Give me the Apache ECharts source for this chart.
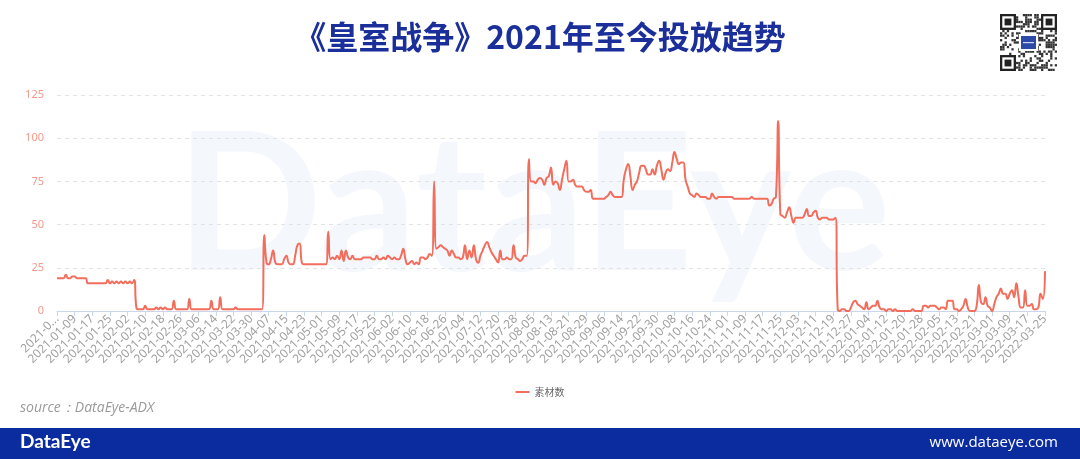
<!DOCTYPE html>
<html><head><meta charset="utf-8">
<script src="https://cdn.jsdelivr.net/npm/echarts@6/dist/echarts.min.js"></script>
<style>html,body{margin:0;padding:0;background:#fff}#c{width:1080px;height:459px}</style>
</head><body><div id="c"></div>
<script>
// ---- data ----
const titleText = '《皇室战争》2021年至今投放趋势';
const seriesName = '素材数';
const sourceText = 'source：DataEye-ADX';
const startYear = 2021, startMonth = 0, startDay = 1;
const dayCount = 449;
const yMax = 125, yInterval = 25;

// 2021-01-01 .. 2021-02-05
const valsEarly2021 = [19,19,19,19,21,19,19,20,20,19,19,19,19,19,
  16,16,16,16,16,16,16,16,16, 18,16, 17,16,17,16,17,16,17,16,17,16,18];
// 2021-02-06 .. 2021-04-04
const valsLow2021 = [2,1,1,1,3,1,1,1,1,2, 1,2,1,2,1,1,1,6,1,1,
  1,1,1,1,7,1,1,1,1,1, 1,1,1,1,6,1,1,1,8,1,
  1,1,1,1,1,2,1,1,1,1, 1,1,1,1,1,1,1,1];
// 2021-04-05 .. 2021-08-02
const valsMid2021 = [44,28,27,30,35,28,27,27,27,30,
  32,28,27,27,32,38,39,28,27,27,
  27,27,27,27,27,27,27,27,27,46,
  30,31,30,32,30,35,29,35,31,30,
  32,30,30,30,30,31,31,31,31,30,
  30,32,30,30,31,30,32,31,30,31,
  30,30,32,36,30,27,28,29,27,28,
  27,31,31,30,31,33,32,75,36,37,
  38,37,36,35,32,35,33,31,31,30,
  31,38,30,35,31,38,30,28,32,35,
  38,40,37,34,32,30,28,35,30,30,
  31,30,30,38,31,30,29,30,32,32];
// 2021-08-03 .. 2021-11-22
const valsHigh2021 = [88,75,75,74,76,77,76,73,77,78,
  83,73,75,74,70,76,82,87,75,75,
  76,73,72,72,72,70,69,69,70,65,
  65,65,65,65,65,66,67,69,67,66,
  66,66,66,76,82,85,78,70,73,75,
  80,84,84,82,79,79,82,79,84,87,
  82,76,80,82,81,86,92,88,85,86,
  86,76,72,68,67,66,68,67,66,66,
  66,65,65,68,66,65,66,66,66,66,
  66,66,66,65,65,65,65,65,65,65,
  65,66,65,65,65,65,65,65,65,61,
  62,65,66];
// 2021-11-23 .. 2021-12-19
const valsLate2021 = [110,56,55,54,57,60,55,51,54,54,
  54,54,56,59,55,55,57,58,54,53,
  54,54,54,53,53,53,54];
// 2021-12-20 .. 2022-03-25
const vals2022 = [1,0,1,1,0,0,2,5,6,4,
  3,2,1,5,1,2,3,3,6,2,
  1,1,0,1,1,0,1,0,0,0,
  0,0,0,0,1,0,0,0,0,3,
  3,2,3,3,3,2,1,2,2,1,
  6,6,6,1,1,0,1,3,7,2,
  0,0,0,3,15,5,4,8,3,2,
  0,4,8,10,13,10,10,7,10,12,
  8,16,8,2,2,12,3,3,4,1,
  1,2,10,7,23];

const values = [].concat(valsEarly2021, valsLow2021, valsMid2021, valsHigh2021, valsLate2021, vals2022);
const categories = [];
for (let k = 0; k < dayCount; k++) {
  const d = new Date(Date.UTC(startYear, startMonth, startDay + k));
  categories.push(d.toISOString().slice(0, 10));
}

// ---- QR-like decoration ----
const qx = 1000, qy = 14, qn = 25, qs = 57 / 25;
const qrElems = [{ type: 'rect', shape: { x: qx, y: qy, width: 57, height: 57 }, style: { fill: '#fff' } }];
for (let y = 0; y < qn; y++) for (let x = 0; x < qn; x++) {
  const h = ((x * 73856093) ^ (y * 19349663) ^ ((x + 3) * (y + 5) * 83492791)) >>> 0;
  if (h % 7 < 3) qrElems.push({ type: 'rect', shape: { x: qx + x * qs, y: qy + y * qs, width: qs, height: qs }, style: { fill: '#333' } });
}
function finder(x, y) {
  return [
    { type: 'rect', shape: { x: x, y: y, width: 7 * qs, height: 7 * qs }, style: { fill: '#222' } },
    { type: 'rect', shape: { x: x + qs, y: y + qs, width: 5 * qs, height: 5 * qs }, style: { fill: '#fff' } },
    { type: 'rect', shape: { x: x + 2 * qs, y: y + 2 * qs, width: 3 * qs, height: 3 * qs }, style: { fill: '#222' } }
  ];
}
qrElems.push.apply(qrElems, finder(qx, qy).concat(finder(qx + 18 * qs, qy), finder(qx, qy + 18 * qs), [
  { type: 'rect', shape: { x: qx + 19, y: qy + 20, width: 19, height: 17 }, style: { fill: '#fff' } },
  { type: 'rect', shape: { x: qx + 21, y: qy + 22, width: 15, height: 13 }, style: { fill: '#2c4aa6' } },
  { type: 'rect', shape: { x: qx + 23, y: qy + 28, width: 11, height: 1.2 }, style: { fill: '#cfd8f0' } }
]));

const chart = echarts.init(document.getElementById('c'), null, { renderer: 'canvas' });
chart.setOption({
  backgroundColor: '#ffffff',
  animation: false,
  title: {
    text: titleText, left: 'center', top: 16,
    textStyle: { fontFamily: 'Noto Sans CJK SC', fontWeight: 'bold', fontSize: 32, color: '#1b2f9b' }
  },
  graphic: [
    { type: 'text', z: -10, left: 176, top: 112, silent: true,
      style: { text: 'DataEye', font: 'bold 192px Lato', fill: '#f4f7fc' } },
    { type: 'text', left: 20, top: 401, style: { text: sourceText, font: 'italic 14px "Open Sans"', fill: '#9a9a9a' } },
    { type: 'rect', shape: { x: 0, y: 428, width: 1080, height: 31 }, style: { fill: '#0b2c9f' } },
    { type: 'text', left: 20, top: 432, style: { text: 'DataEye', font: 'bold 19px Lato', fill: '#ffffff' } },
    { type: 'text', right: 22, top: 435, style: { text: 'www.dataeye.com', font: '15px "Open Sans"', fill: '#ffffff' } }
  ].concat(qrElems),
  legend: {
    data: [{ name: seriesName, icon: 'rect' }],
    left: 'center', top: 382, itemWidth: 14, itemHeight: 2, itemGap: 6,
    textStyle: { fontSize: 10, color: '#666', fontFamily: 'Noto Sans CJK SC' }
  },
  grid: { left: 57, right: 35, top: 95, bottom: 148, containLabel: false },
  xAxis: {
    type: 'category', data: categories, boundaryGap: false,
    axisLine: { lineStyle: { color: '#ccd6eb' } },
    axisTick: { show: true, interval: 7, length: 5, lineStyle: { color: '#ccd6eb' } },
    axisLabel: {
      interval: 7, rotate: 45, fontSize: 12, color: '#a0a0a0', margin: 6,
      fontFamily: 'Noto Sans',
      formatter: function (v, idx) { return idx === 0 ? v.slice(0, 6) + '...' : v; }
    }
  },
  yAxis: {
    type: 'value', min: 0, max: yMax, interval: yInterval,
    axisLine: { show: false }, axisTick: { show: false },
    axisLabel: { color: '#f39a8c', fontSize: 11, margin: 13, fontFamily: 'Noto Sans' },
    splitLine: { lineStyle: { color: '#e3e3e3', type: [4, 4] } }
  },
  series: [{
    name: seriesName, type: 'line', data: values, smooth: true, showSymbol: false,
    lineStyle: { color: '#f26d5b', width: 2 }, itemStyle: { color: '#f26d5b' }
  }]
});
</script></body></html>
